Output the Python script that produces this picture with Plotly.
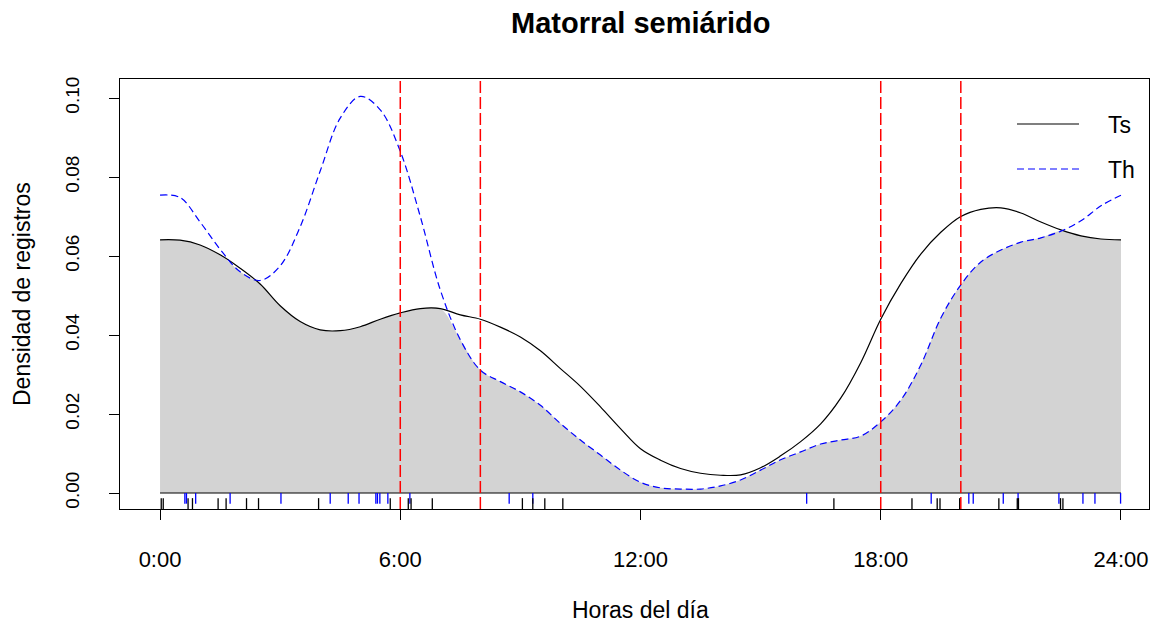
import plotly.graph_objects as go

# Hour grid shared by both kernel density curves
hours = [0.0, 0.5, 1.0, 1.5, 2.0, 2.5, 3.0, 3.5, 4.0, 4.5, 5.0, 5.5, 6.0, 6.5,
         7.0, 7.5, 8.0, 8.5, 9.0, 9.5, 10.0, 10.5, 11.0, 11.5, 12.0, 12.5,
         13.0, 13.5, 14.0, 14.5, 15.0, 15.5, 16.0, 16.5, 17.0, 17.5, 18.0,
         18.5, 19.0, 19.5, 20.0, 20.5, 21.0, 21.5, 22.0, 22.5, 23.0, 23.5, 24.0]

# Activity density, species Ts (solid black)
dens_ts = [0.0641, 0.0640, 0.0628, 0.0603, 0.0569, 0.0529, 0.0474, 0.0434,
           0.0413, 0.0411, 0.0421, 0.0440, 0.0456, 0.0467, 0.0467, 0.0451,
           0.0440, 0.0420, 0.0395, 0.0360, 0.0315, 0.0270, 0.0218, 0.0163,
           0.0112, 0.0083, 0.0062, 0.0050, 0.0045, 0.0046, 0.0064, 0.0094,
           0.0130, 0.0175, 0.0240, 0.0330, 0.0440, 0.0530, 0.0605, 0.0660,
           0.0700, 0.0718, 0.0722, 0.0709, 0.0686, 0.0666, 0.0651, 0.0643,
           0.0641]

# Activity density, species Th (dashed blue)
dens_th = [0.0754, 0.0748, 0.0686, 0.0617, 0.0560, 0.0538, 0.0575, 0.0674,
           0.0815, 0.0949, 0.1004, 0.0970, 0.0865, 0.0700, 0.0514, 0.0388,
           0.0311, 0.0282, 0.0256, 0.0222, 0.0176, 0.0134, 0.0096, 0.0058,
           0.0027, 0.0013, 0.0010, 0.0010, 0.0018, 0.0033, 0.0058, 0.0084,
           0.0104, 0.0124, 0.0134, 0.0144, 0.0180, 0.0235, 0.0324, 0.0443,
           0.0527, 0.0585, 0.0615, 0.0635, 0.0646, 0.0663, 0.0689, 0.0727,
           0.0754]

# Detection times (hours) shown as rugs
times_ts = [0.03, 0.08, 0.70, 0.81, 1.45, 1.65, 2.16, 2.46, 3.96, 5.75, 6.20,
            6.27, 6.80, 9.05, 9.31, 9.61, 10.06, 16.83, 18.78, 19.41, 19.48,
            19.97, 20.95, 21.41, 21.44, 22.49, 22.55]
times_th = [0.62, 0.66, 0.89, 1.75, 3.02, 4.25, 4.70, 4.97, 5.39, 5.43, 5.49,
            5.69, 6.24, 8.72, 9.31, 16.15, 19.26, 20.20, 20.31, 21.06, 21.43,
            22.45, 23.05, 23.35, 23.99]

# Twilight reference hours
ref_hours = [6, 8, 18, 20]

tick_vals = [0, 6, 12, 18, 24]
tick_text = ["0:00", "6:00", "12:00", "18:00", "24:00"]
y_tick_vals = [0.00, 0.02, 0.04, 0.06, 0.08, 0.10]
y_tick_text = ["0.00", "0.02", "0.04", "0.06", "0.08", "0.10"]

FONT = "Liberation Sans, Arial, sans-serif"
Y_MIN, Y_MAX = -0.00405, 0.10481
SMOOTH = 1.0

overlap = [min(a, b) for a, b in zip(dens_ts, dens_th)]


def rug(times, y0, y1):
    xs, ys = [], []
    for t in times:
        xs += [t, t, None]
        ys += [y0, y1, None]
    return xs, ys


fig = go.Figure()

# Shaded overlap area
fig.add_trace(go.Scatter(
    x=hours, y=overlap, mode="lines", fill="tozeroy",
    fillcolor="#D3D3D3", line=dict(width=0, shape="spline", smoothing=SMOOTH),
    hoverinfo="skip", showlegend=False))

# Zero baseline across the day
fig.add_trace(go.Scatter(
    x=[hours[0], hours[-1]], y=[0, 0], mode="lines",
    line=dict(color="black", width=1), hoverinfo="skip", showlegend=False))

fig.add_trace(go.Scatter(
    x=hours, y=dens_ts, mode="lines", name="Ts",
    line=dict(color="black", width=1.2, shape="spline", smoothing=SMOOTH),
    showlegend=False))
fig.add_trace(go.Scatter(
    x=hours, y=dens_th, mode="lines", name="Th",
    line=dict(color="#0000FF", width=1.2, dash="7px,4px",
              shape="spline", smoothing=SMOOTH),
    showlegend=False))

rx, ry = rug(times_th, 0.0, -0.0027)
fig.add_trace(go.Scatter(x=rx, y=ry, mode="lines",
                         line=dict(color="#0000FF", width=1.3),
                         hoverinfo="skip", showlegend=False))
rx, ry = rug(times_ts, -0.0013, Y_MIN)
fig.add_trace(go.Scatter(x=rx, y=ry, mode="lines",
                         line=dict(color="black", width=1.3),
                         hoverinfo="skip", showlegend=False))

shapes = []
for h in ref_hours:
    shapes.append(dict(type="line", xref="x", yref="paper", x0=h, x1=h,
                       y0=0, y1=1,
                       line=dict(color="#FF0000", width=1.5, dash="12px,4px")))


# Legend drawn in the top-right corner
def px_x(px):
    return (px - 120) / 1029


def px_y(py):
    return (509 - py) / 430


shapes.append(dict(type="line", xref="paper", yref="paper",
                   x0=px_x(1017), x1=px_x(1079), y0=px_y(124), y1=px_y(124),
                   line=dict(color="black", width=1.2)))
shapes.append(dict(type="line", xref="paper", yref="paper",
                   x0=px_x(1017), x1=px_x(1079), y0=px_y(169), y1=px_y(169),
                   line=dict(color="#0000FF", width=1.2, dash="7px,4px")))

annotations = [
    dict(text="Ts", x=px_x(1106), y=px_y(125), xref="paper", yref="paper",
         xanchor="left", yanchor="middle", showarrow=False,
         font=dict(family=FONT, size=23, color="black")),
    dict(text="Th", x=px_x(1106), y=px_y(170), xref="paper", yref="paper",
         xanchor="left", yanchor="middle", showarrow=False,
         font=dict(family=FONT, size=23, color="black")),
    dict(text="<b>Matorral semiárido</b>", x=px_x(640), y=px_y(23),
         xref="paper", yref="paper", xanchor="center", yanchor="middle",
         showarrow=False, font=dict(family=FONT, size=29, color="black")),
    dict(text="Horas del día", x=px_x(640), y=px_y(610),
         xref="paper", yref="paper", xanchor="center", yanchor="middle",
         showarrow=False, font=dict(family=FONT, size=23, color="black")),
    dict(text="Densidad de registros", x=px_x(22), y=px_y(294),
         xref="paper", yref="paper", xanchor="center", yanchor="middle",
         textangle=-90, showarrow=False,
         font=dict(family=FONT, size=23, color="black")),
]

fig.update_layout(
    width=1159, height=624,
    margin=dict(l=120, r=10, t=79, b=115),
    paper_bgcolor="white", plot_bgcolor="white",
    shapes=shapes, annotations=annotations,
    showlegend=False,
)
fig.update_xaxes(
    range=[-1.0, 24.7], showgrid=False, zeroline=False,
    showline=True, linecolor="black", linewidth=1.3, mirror=True,
    ticks="outside", ticklen=10, tickcolor="black", tickwidth=1.2,
    tickvals=tick_vals, ticktext=tick_text, ticklabelstandoff=20,
    tickfont=dict(family=FONT, size=22, color="black"))
fig.update_yaxes(
    range=[Y_MIN, Y_MAX], showgrid=False, zeroline=False,
    showline=True, linecolor="black", linewidth=1.3, mirror=True,
    ticks="outside", ticklen=10, tickcolor="black", tickwidth=1.2,
    tickvals=y_tick_vals, ticktext=y_tick_text, tickangle=-90,
    ticklabelstandoff=22,
    tickfont=dict(family="Liberation Sans Narrow, Liberation Sans, Arial",
                  size=19, color="black"))

fig.write_html("out.html")
